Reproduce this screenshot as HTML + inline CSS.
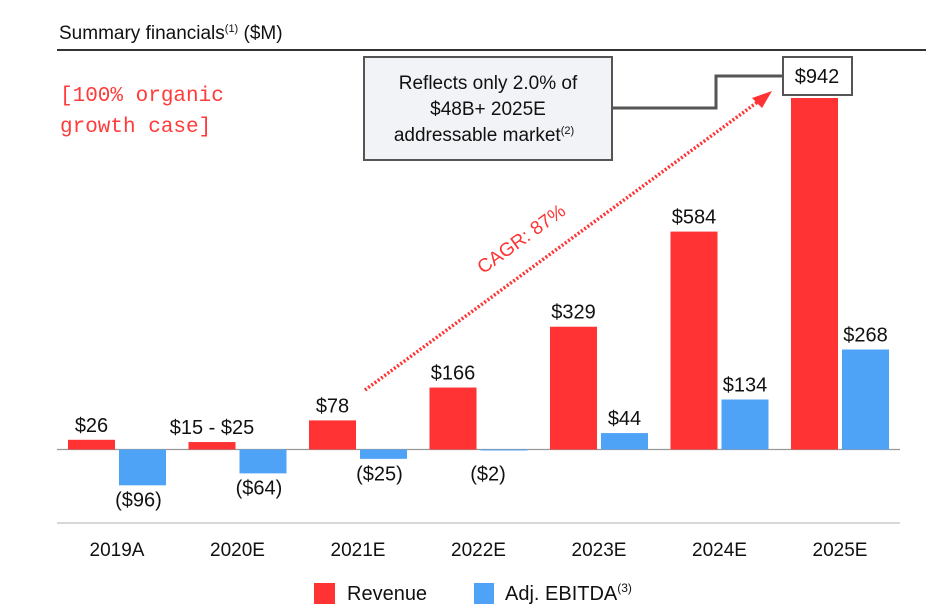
<!DOCTYPE html>
<html><head><meta charset="utf-8"><style>
body{margin:0;background:#fff;width:949px;height:615px;overflow:hidden;font-family:"Liberation Sans",sans-serif}
svg{display:block}
</style></head><body>
<svg id="chart" width="949" height="615" font-family="Liberation Sans, sans-serif">
<text x="59" y="39" font-size="19" fill="#111">Summary financials<tspan font-size="11" dy="-7">(1)</tspan><tspan dy="7"> ($M)</tspan></text>
<line x1="57" y1="50" x2="926" y2="50" stroke="#333" stroke-width="2"/>
<text font-family="Liberation Mono, monospace" font-size="21" fill="#ff3b3b"><tspan x="60" y="101">[100% organic</tspan><tspan x="60" y="132">growth case]</tspan></text>
<line x1="57" y1="523" x2="900" y2="523" stroke="#ccc" stroke-width="1.5"/>
<line x1="57" y1="449.5" x2="900" y2="449.5" stroke="#999" stroke-width="1.2"/>
<polyline points="612,108 716,108 716,76 783,76" fill="none" stroke="#555" stroke-width="3"/>
<rect x="783" y="57" width="69" height="38" fill="#fff" stroke="#555" stroke-width="2"/>
<g id="bars"></g>
<line x1="365" y1="390" x2="763" y2="98" stroke="#ff3333" stroke-width="3.5" stroke-dasharray="2 2"/>
<polygon points="772,91 752,98 762,108" fill="#ff3333"/>
<text x="0" y="0" font-size="19" fill="#ff3333" text-anchor="middle" transform="translate(525,244) rotate(-36)">CAGR: 87%</text>
<rect x="364" y="57" width="248" height="103" fill="#f2f3f7" stroke="#555" stroke-width="2"/>
<text font-size="19" fill="#111" text-anchor="middle"><tspan x="488" y="89">Reflects only 2.0% of</tspan><tspan x="488" y="115">$48B+ 2025E</tspan><tspan x="484" y="141">addressable market<tspan font-size="11" dy="-7">(2)</tspan></tspan></text>
<rect x="314" y="583" width="21" height="21" fill="#ff3333"/>
<text x="347" y="600" font-size="20" fill="#111">Revenue</text>
<rect x="474" y="583" width="20" height="21" fill="#4fa3f7"/>
<text x="505" y="600" font-size="20" fill="#111">Adj. EBITDA<tspan font-size="12" dy="-8">(3)</tspan></text>
</svg>
<script>
const categories=["2019A","2020E","2021E","2022E","2023E","2024E","2025E"];
const revenue=[26,20,78,166,329,584,942];
const ebitda=[-96,-64,-25,-2,44,134,268];
const revenueLabels=["$26","$15 - $25","$78","$166","$329","$584","$942"];
const ebitdaLabels=["($96)","($64)","($25)","($2)","$44","$134","$268"];
const NS="http://www.w3.org/2000/svg";
const zeroY=449.5,pxPer=351.5/942,bw=47;
const y=v=>zeroY-v*pxPer;
const cx=i=>117+i*120.5;
const g=document.getElementById('bars');
function mk(t,a){const e=document.createElementNS(NS,t);for(const k in a)e.setAttribute(k,a[k]);g.appendChild(e);return e;}
categories.forEach((c,i)=>{
  const rv=revenue[i],ev=ebitda[i];
  const r=mk('rect',{x:cx(i)-bw-2,y:Math.min(y(rv),zeroY),width:bw,height:Math.abs(y(rv)-zeroY),fill:'#ff3333'});
  
  
  const e=mk('rect',{x:cx(i)+2,y:Math.min(y(ev),zeroY),width:bw,height:Math.max(Math.abs(y(ev)-zeroY),1),fill:'#4fa3f7'});
  
  
  const isPeak=(i===6);
  const rl=mk('text',{x:isPeak?817:cx(i)-bw/2-2,y:isPeak?83:y(rv)-8,'font-size':20,fill:'#111','text-anchor':'middle'});
  rl.textContent=revenueLabels[i];
  
  
  const ly=ev<0?Math.max(y(ev),zeroY+10)+21:y(ev)-8;
  const el=mk('text',{x:cx(i)+bw/2+2-(ev<0&&i<3?4:0)-(i==3?16:0),y:ly,'font-size':20,fill:'#111','text-anchor':'middle'});
  el.textContent=ebitdaLabels[i];
  
  
  const xl=mk('text',{x:cx(i),y:556,'font-size':19,fill:'#111','text-anchor':'middle'});
  xl.textContent=c;
  
  
});
</script>
</body></html>
